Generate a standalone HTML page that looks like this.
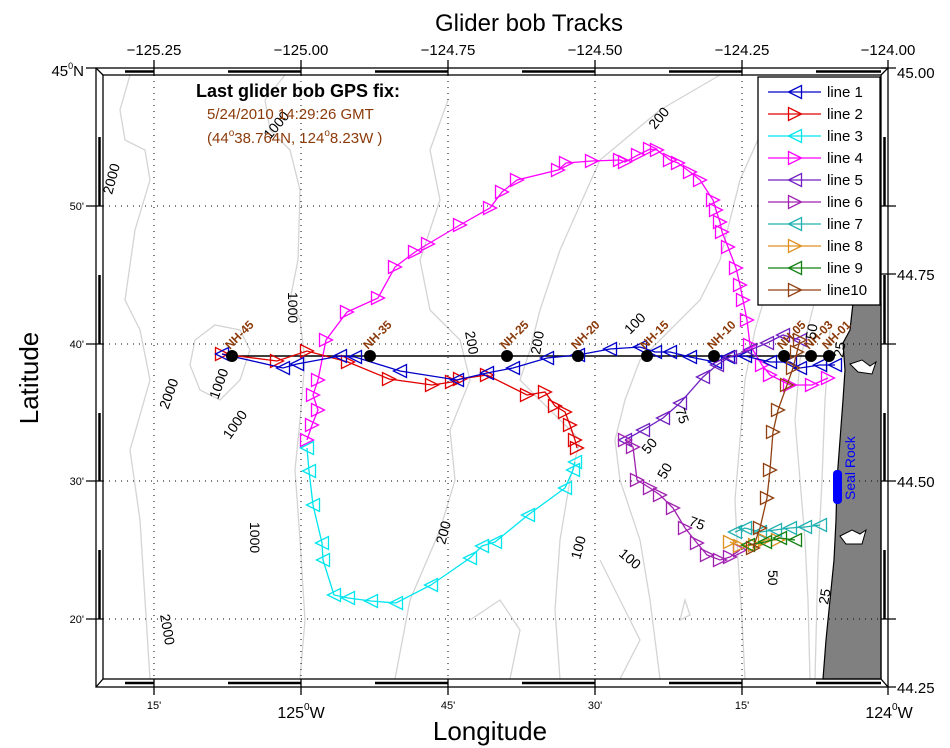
<!DOCTYPE html>
<html><head><meta charset="utf-8"><style>
body{margin:0;background:#fff;}
svg{display:block;font-family:"Liberation Sans",sans-serif;}
</style></head><body>
<svg id="s" width="950" height="748" viewBox="0 0 950 748" xmlns="http://www.w3.org/2000/svg">
<rect width="950" height="748" fill="#fff"/>
<g fill="none" stroke="#d4d4d4" stroke-width="1.3">
<path d="M130,75 L120,110 L125,140 L145,150 L150,180 L135,230 L125,300 L140,330 L150,380 L130,450 L140,520 L145,600 L150,679"/>
<path d="M285,75 L265,100 L270,130 L290,150 L300,190 L298,260 L290,300 L300,320 L305,360 L300,420 L295,470 L300,540 L305,620 L300,679"/>
<path d="M195,340 L215,325 L240,330 L250,350 L240,380 L220,400 L200,390 L190,365 Z"/>
<path d="M448,100 L430,150 L440,200 L420,260 L430,310 L460,340 L470,380 L450,430 L455,480 L440,530 L410,600 L395,679"/>
<path d="M720,75 L660,110 L600,160 L560,250 L540,310 L530,350 L520,380 L560,420 L580,440 L570,480 L560,540 L555,610 L560,679"/>
<path d="M780,90 L740,180 L720,260 L700,300 L670,330 L640,360 L625,400 L615,440 L620,480 L640,540 L650,600 L660,679"/>
<path d="M770,280 L755,330 L745,380 L740,440 L735,500 L738,560 L742,620 L745,679"/>
<path d="M815,300 L800,360 L795,420 L800,480 L805,540 L808,600 L810,679"/>
<path d="M830,330 L825,400 L822,480 L818,560 L815,679"/>
<path d="M600,560 L620,600 L640,640 L620,679"/>
<path d="M470,620 L500,600 L520,630 L510,679"/>
<path d="M685,600 L690,615 L680,620 Z"/>
</g>
<path d="M853,303 L881,303 L881,679 L823,679 L826,640 L830,600 L834,560 L836,520 L837,480 L840,440 L843,400 L845,370 L843,343 L850,330 Z" fill="#808080" stroke="#000" stroke-width="1.2"/>
<path d="M850,364 L862,360 L870,366 L876,362 L872,374 L858,372 Z" fill="#fff" stroke="#000"/>
<path d="M840,536 L852,530 L860,534 L866,530 L862,544 L846,544 Z" fill="#fff" stroke="#000"/>
<g stroke="#000" stroke-width="1" stroke-dasharray="1,5">
<path d="M154,75V679M301,75V679M448,75V679M595,75V679M742,75V679"/>
<path d="M103,206H881M103,344H881M103,481H881M103,619H881"/>
</g>
<g fill="none" stroke="#000" stroke-width="1.3">
<rect x="96" y="68" width="792" height="619"/>
<rect x="103" y="75" width="778" height="604"/>
<path d="M96,68L103,75M888,68L881,75M96,687L103,679M888,687L881,679"/>
</g>
<g stroke="#000" stroke-width="2.5">
<path d="M125,71.5H154M228,71.5H301M375,71.5H448M522,71.5H595M669,71.5H742M816,71.5H881"/>
<path d="M125,683H154M228,683H301M375,683H448M522,683H595M669,683H742M816,683H881"/>
<path d="M99.5,137V206M99.5,275V344M99.5,413V481M99.5,550V619"/>
<path d="M884.5,137V206M884.5,275V344M884.5,413V481M884.5,550V619"/>
</g>
<g stroke="#000" stroke-width="1.3">
<path d="M154,60V75M301,60V75M448,60V75M595,60V75M742,60V75M888,60V68"/>
<path d="M154,679V695M301,679V695M448,679V695M595,679V695M742,679V695M888,687V695"/>
<path d="M86,68H96M86,206H103M86,344H103M86,481H103M86,619H103"/>
<path d="M881,68H896M881,206H896M881,274H896M881,344H896M881,481H896M881,619H896M888,687H896"/>
</g>
<line x1="232" y1="356" x2="835" y2="356" stroke="#000" stroke-width="1.5"/>
<g id="tracks"></g>
<g fill="#000">
<circle cx="232" cy="356" r="6"/><circle cx="370" cy="356" r="6"/><circle cx="507" cy="356" r="6"/><circle cx="578" cy="356" r="6"/><circle cx="647" cy="356" r="6"/><circle cx="714" cy="356" r="6"/><circle cx="784" cy="356" r="6"/><circle cx="811" cy="356" r="6"/><circle cx="829" cy="356" r="6"/>
</g>
<g fill="#8b3a0a" font-size="12" font-weight="bold">
<text transform="translate(230,350) rotate(-45)">NH-45</text>
<text transform="translate(368,350) rotate(-45)">NH-35</text>
<text transform="translate(505,350) rotate(-45)">NH-25</text>
<text transform="translate(576,350) rotate(-45)">NH-20</text>
<text transform="translate(645,350) rotate(-45)">NH-15</text>
<text transform="translate(712,350) rotate(-45)">NH-10</text>
<text transform="translate(782,350) rotate(-45)">NH-05</text>
<text transform="translate(809,350) rotate(-45)">NH-03</text>
<text transform="translate(827,350) rotate(-45)">NH-01</text>
</g>
<rect x="833" y="470" width="9" height="34" rx="4" fill="#0000ff"/>
<text transform="translate(855,500) rotate(-90)" fill="#0000ff" font-size="14">Seal Rock</text>
<g font-size="14" fill="#000">
<text transform="translate(112,195) rotate(-75)">2000</text>
<text transform="translate(270,140) rotate(-50)">1000</text>
<text transform="translate(288,292) rotate(90)">1000</text>
<text transform="translate(218,400) rotate(-70)">1000</text>
<text transform="translate(230,440) rotate(-55)">1000</text>
<text transform="translate(168,410) rotate(-70)">2000</text>
<text transform="translate(250,522) rotate(90)">1000</text>
<text transform="translate(160,615) rotate(80)">2000</text>
<text transform="translate(465,332) rotate(80)">200</text>
<text transform="translate(540,355) rotate(-80)">200</text>
<text transform="translate(655,130) rotate(-50)">200</text>
<text transform="translate(630,335) rotate(-45)">100</text>
<text transform="translate(580,560) rotate(-75)">100</text>
<text transform="translate(618,555) rotate(40)">100</text>
<text transform="translate(445,545) rotate(-75)">200</text>
<text transform="translate(675,410) rotate(70)">75</text>
<text transform="translate(648,455) rotate(-50)">50</text>
<text transform="translate(665,480) rotate(-60)">50</text>
<text transform="translate(688,525) rotate(20)">75</text>
<text transform="translate(768,570) rotate(90)">50</text>
<text transform="translate(828,605) rotate(-80)">25</text>
<text transform="translate(815,340) rotate(-80)">50</text>
<text transform="translate(843,358) rotate(-80)">25</text>
</g>
<rect x="758" y="77" width="122" height="228" fill="#fff" stroke="#000" stroke-width="1.3"/>
<g id="legend"></g>
<text x="196" y="97" font-size="18" font-weight="bold">Last glider bob GPS fix:</text>
<text x="207" y="119" font-size="15" fill="#8b3a0a">5/24/2010 14:29:26 GMT</text>
<text x="207" y="143" font-size="15" fill="#8b3a0a">(44<tspan font-size="10" dy="-7">o</tspan><tspan dy="7">38.764N, 124</tspan><tspan font-size="10" dy="-7">o</tspan><tspan dy="7">8.23W )</tspan></text>
<text x="529" y="31" font-size="24" text-anchor="middle">Glider bob Tracks</text>
<g font-size="15" text-anchor="middle">
<text x="154" y="55">−125.25</text><text x="301" y="55">−125.00</text><text x="448" y="55">−124.75</text><text x="595" y="55">−124.50</text><text x="742" y="55">−124.25</text><text x="888" y="55">−124.00</text>
</g>
<g font-size="15">
<text x="897" y="78">45.00</text><text x="897" y="280">44.75</text><text x="897" y="487">44.50</text><text x="897" y="693">44.25</text>
</g>
<g font-size="11" text-anchor="end">
<text x="84" y="210">50'</text><text x="84" y="348">40'</text><text x="84" y="485">30'</text><text x="84" y="623">20'</text>
</g>
<text x="84" y="76" font-size="15" text-anchor="end">45<tspan font-size="9" dy="-7">0</tspan><tspan dy="7">N</tspan></text>
<g font-size="11" text-anchor="middle">
<text x="154" y="709">15'</text><text x="448" y="709">45'</text><text x="595" y="709">30'</text><text x="742" y="709">15'</text>
</g>
<text x="301" y="718" font-size="16" text-anchor="middle">125<tspan font-size="10" dy="-8">0</tspan><tspan dy="8">W</tspan></text>
<text x="889" y="718" font-size="16" text-anchor="middle">124<tspan font-size="10" dy="-8">0</tspan><tspan dy="8">W</tspan></text>
<text x="490" y="740" font-size="26" text-anchor="middle">Longitude</text>
<text transform="translate(38,378) rotate(-90)" font-size="26" text-anchor="middle">Latitude</text>
</svg>
<script>
var NS="http://www.w3.org/2000/svg";
function tri(g,x,y,dir,c){var s=6.5,p=dir<0?[[x-s,y],[x+s,y-s],[x+s,y+s]]:[[x+s,y],[x-s,y-s],[x-s,y+s]];
var e=document.createElementNS(NS,"polygon");e.setAttribute("points",p.map(function(a){return a.join(",")}).join(" "));
e.setAttribute("fill","none");e.setAttribute("stroke",c);e.setAttribute("stroke-width","1.3");g.appendChild(e);}
function line(g,pts,c,dir){var e=document.createElementNS(NS,"polyline");e.setAttribute("points",pts.map(function(a){return a.join(",")}).join(" "));
e.setAttribute("fill","none");e.setAttribute("stroke",c);e.setAttribute("stroke-width","1.3");g.appendChild(e);
pts.forEach(function(p){tri(g,p[0],p[1],dir,c)});}
var T=document.getElementById("tracks");
var tracks=[
["#ff00ff",1,[[307,440],[312,425],[318,410],[313,395],[318,380],[326,340],[347,312],[378,298],[395,267],[415,252],[428,244],[460,225],[490,208],[502,192],[517,180],[558,170],[566,163],[592,161],[620,160],[625,162],[638,155],[650,149],[657,150],[670,160],[678,163],[690,172],[700,180],[713,200],[716,210],[720,222],[722,232],[728,247],[736,268],[740,285],[743,300],[747,320],[750,345],[762,365],[770,375],[790,385],[812,385],[828,378]]],
["#00e5ee",-1,[[307,448],[309,471],[313,505],[322,543],[323,560],[334,595],[348,598],[371,601],[396,603],[431,585],[470,558],[482,546],[495,542],[528,515],[565,488],[573,470],[575,462]]],
["#e00000",1,[[222,354],[277,361],[307,351],[348,362],[389,379],[432,385],[452,382],[460,379],[487,375],[527,395],[545,392],[555,406],[565,412],[570,425],[575,440],[577,448]]],
["#0000c8",-1,[[835,365],[820,365],[800,368],[790,362],[770,362],[745,356],[728,357],[715,362],[690,357],[670,352],[655,352],[640,347],[610,349],[578,355],[547,358],[513,368],[487,373],[457,380],[400,371],[355,357],[340,356],[297,364],[283,368],[222,354]]],
["#7020c0",-1,[[625,440],[643,430],[663,418],[680,403],[703,377],[717,365],[730,357],[750,350],[767,343],[783,335],[800,340]]],
["#a020b0",1,[[625,440],[633,447],[637,480],[650,488],[660,495],[673,508],[685,528],[697,543],[707,555],[720,560],[730,557],[740,550]]],
["#20b0b0",-1,[[735,532],[745,528],[760,532],[775,530],[790,528],[805,527],[820,525]]],
["#e09020",1,[[730,542],[740,546],[755,545],[765,540],[778,540]]],
["#108010",-1,[[748,545],[765,542],[780,538],[795,540]]],
["#904010",1,[[753,548],[760,528],[767,498],[770,470],[773,432],[778,410],[787,385],[793,368],[797,352],[800,340]]]
];
tracks.forEach(function(t){line(T,t[2],t[0],t[1]);});
var L=document.getElementById("legend");
var cols=["#0000c8","#e00000","#00e5ee","#ff00ff","#7020c0","#a020b0","#20b0b0","#e09020","#108010","#904010"];
var names=["line 1","line 2","line 3","line 4","line 5","line 6","line 7","line 8","line 9","line10"];
for(var i=0;i<10;i++){var y=92+22*i;var e=document.createElementNS(NS,"line");
e.setAttribute("x1",768);e.setAttribute("x2",821);e.setAttribute("y1",y);e.setAttribute("y2",y);e.setAttribute("stroke",cols[i]);e.setAttribute("stroke-width","1.3");L.appendChild(e);
tri(L,795,y,i%2?1:-1,cols[i]);
var t=document.createElementNS(NS,"text");t.setAttribute("x",827);t.setAttribute("y",y+5);t.setAttribute("font-size","15");t.textContent=names[i];L.appendChild(t);}
</script>
</body></html>
